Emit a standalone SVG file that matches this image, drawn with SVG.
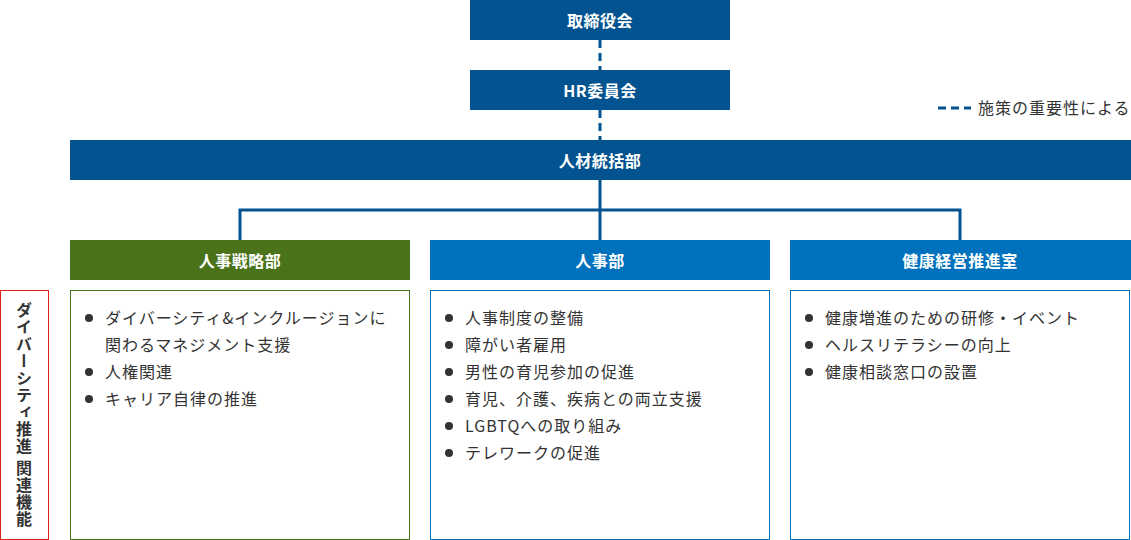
<svg xmlns="http://www.w3.org/2000/svg" width="1131" height="540" viewBox="0 0 1131 540">
<style>
.hd{font-family:"Noto Sans CJK JP","Liberation Sans",sans-serif;font-size:16px;font-weight:bold;fill:#fff;text-anchor:middle;dominant-baseline:central;letter-spacing:0.5px}
.it{font-family:"Noto Sans CJK JP","Liberation Sans",sans-serif;font-size:16px;fill:#333;letter-spacing:1px}
.bul{fill:#333}
.navy{fill:#02538f}
.dash{stroke:#02538f;stroke-width:3;stroke-dasharray:8,5;fill:none}
.solid{stroke:#02538f;stroke-width:3;fill:none}
</style>
<rect width="1131" height="540" fill="#fff"/>
<g id="connectors">
<line class="dash" x1="600" y1="40" x2="600" y2="70"/>
<line class="dash" x1="600" y1="110" x2="600" y2="140"/>
<line class="solid" x1="600" y1="180" x2="600" y2="240"/>
<polyline class="solid" points="240,240 240,210 960,210 960,240"/>
</g>
<g id="legend">
<line class="dash" x1="938" y1="108" x2="971" y2="108" stroke-dasharray="8,4"/>
<text class="it" x="978" y="114" letter-spacing="0.9">施策の重要性による</text>
</g>
<g id="board"><rect class="navy" x="470" y="0" width="260" height="40"/><text class="hd" x="600" y="20">取締役会</text></g>
<g id="hr-committee"><rect class="navy" x="470" y="70" width="260" height="40"/><text class="hd" x="600" y="90">HR委員会</text></g>
<g id="talent-dept"><rect class="navy" x="70" y="140" width="1061" height="40"/><text class="hd" x="600" y="160">人材統括部</text></g>
<g id="hr-strategy">
<rect x="70" y="240" width="340" height="40" fill="#4a7319"/><text class="hd" x="240" y="260">人事戦略部</text>
<rect x="70.5" y="290.5" width="339" height="249" fill="none" stroke="#4a7319"/>
<circle class="bul" cx="89" cy="318" r="4"/><text class="it" x="105" y="324">ダイバーシティ&amp;インクルージョンに</text>
<text class="it" x="105" y="351">関わるマネジメント支援</text>
<circle class="bul" cx="89" cy="372" r="4"/><text class="it" x="105" y="378">人権関連</text>
<circle class="bul" cx="89" cy="399" r="4"/><text class="it" x="105" y="405">キャリア自律の推進</text>
</g>
<g id="hr-dept">
<rect x="430" y="240" width="340" height="40" fill="#0071bc"/><text class="hd" x="600" y="260">人事部</text>
<rect x="430.5" y="290.5" width="339" height="249" fill="none" stroke="#0071bc"/>
<circle class="bul" cx="449" cy="318" r="4"/><text class="it" x="465" y="324">人事制度の整備</text>
<circle class="bul" cx="449" cy="345" r="4"/><text class="it" x="465" y="351">障がい者雇用</text>
<circle class="bul" cx="449" cy="372" r="4"/><text class="it" x="465" y="378">男性の育児参加の促進</text>
<circle class="bul" cx="449" cy="399" r="4"/><text class="it" x="465" y="405">育児、介護、疾病との両立支援</text>
<circle class="bul" cx="449" cy="426" r="4"/><text class="it" x="465" y="432">LGBTQへの取り組み</text>
<circle class="bul" cx="449" cy="453" r="4"/><text class="it" x="465" y="459">テレワークの促進</text>
</g>
<g id="health-office">
<rect x="790" y="240" width="341" height="40" fill="#0071bc"/><text class="hd" x="960" y="260">健康経営推進室</text>
<rect x="790.5" y="290.5" width="339" height="249" fill="none" stroke="#0071bc"/>
<circle class="bul" cx="809" cy="318" r="4"/><text class="it" x="825" y="324">健康増進のための研修・イベント</text>
<circle class="bul" cx="809" cy="345" r="4"/><text class="it" x="825" y="351">ヘルスリテラシーの向上</text>
<circle class="bul" cx="809" cy="372" r="4"/><text class="it" x="825" y="378">健康相談窓口の設置</text>
</g>
<g id="diversity-label">
<rect x="0.5" y="290.5" width="48" height="249" fill="none" stroke="#e0201b"/>
<text x="24" y="302" font-family="Noto Sans CJK JP,sans-serif" font-size="16" font-weight="bold" fill="#333" writing-mode="vertical-rl" text-anchor="start" letter-spacing="1">ダイバーシティ推進 関連機能</text>
</g>
</svg>
